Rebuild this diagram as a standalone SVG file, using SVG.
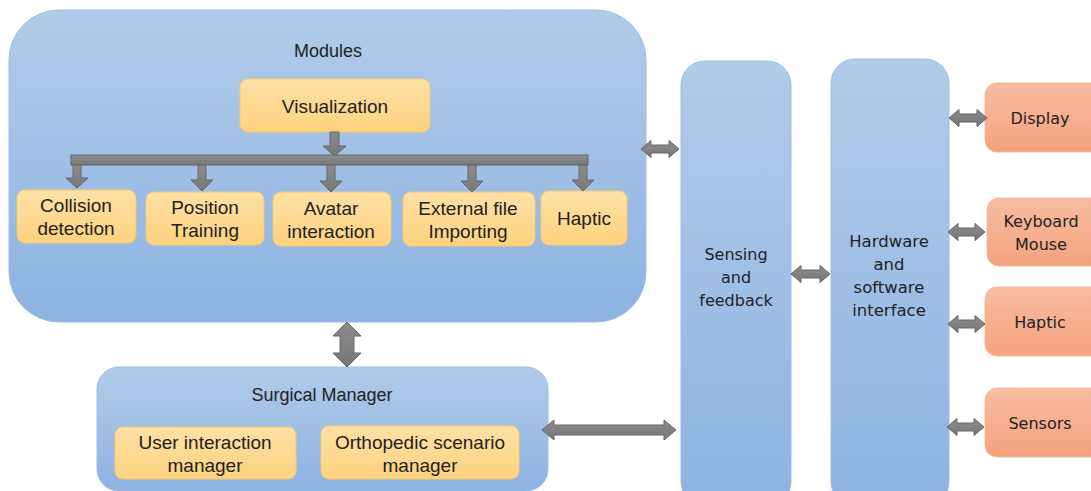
<svg xmlns="http://www.w3.org/2000/svg" width="1091" height="491" viewBox="0 0 1091 491">
  <defs>
    <linearGradient id="gBlue" x1="0" y1="0" x2="0" y2="1">
      <stop offset="0" stop-color="#b2cbe9"/>
      <stop offset="1" stop-color="#8db3e2"/>
    </linearGradient>
    <linearGradient id="gYellow" x1="0" y1="0" x2="0" y2="1">
      <stop offset="0" stop-color="#fee1a6"/>
      <stop offset="1" stop-color="#fdd27f"/>
    </linearGradient>
    <linearGradient id="gSalmon" x1="0" y1="0" x2="0" y2="1">
      <stop offset="0" stop-color="#f7bda1"/>
      <stop offset="1" stop-color="#f4a27f"/>
    </linearGradient>
    <linearGradient id="gGray" x1="0" y1="0" x2="0" y2="1">
      <stop offset="0" stop-color="#8c8c8c"/>
      <stop offset="1" stop-color="#777777"/>
    </linearGradient>
  </defs>
  <style>
    .blue { fill: url(#gBlue); stroke: #9dbde6; stroke-width: 1; }
    .yel { fill: url(#gYellow); stroke: #f6cb6a; stroke-width: 1; }
    .sal { fill: url(#gSalmon); stroke: #f6b89a; stroke-width: 1; }
    .arr { fill: url(#gGray); stroke: #666666; stroke-width: 1; stroke-linejoin: miter; }
    .tl { font-family: "Liberation Sans", Arial, sans-serif; font-size: 19px; fill: #222222; text-anchor: middle; dominant-baseline: central; }
    .th { font-size: 18px; }
    .tr { font-family: "DejaVu Sans", Verdana, sans-serif; font-size: 16px; fill: #222222; text-anchor: middle; dominant-baseline: central; }
    .tb { font-size: 16.5px; }
  </style>

  <rect width="1091" height="491" fill="#ffffff"/>

  <!-- Modules container -->
  <g id="modules">
    <rect class="blue" x="9" y="10" width="637" height="312" rx="50"/>
    <text class="tl th" x="328" y="51">Modules</text>
  </g>
  <g id="visualization">
    <rect class="yel" x="240" y="79" width="190" height="53" rx="8"/>
    <text class="tl" x="335" y="106">Visualization</text>
  </g>
  <g id="collision">
    <rect class="yel" x="17" y="190" width="119" height="53" rx="8"/>
    <text class="tl" x="76" y="205">Collision</text>
    <text class="tl" x="76" y="228">detection</text>
  </g>
  <g id="position">
    <rect class="yel" x="146" y="192" width="118" height="53" rx="8"/>
    <text class="tl" x="205" y="207">Position</text>
    <text class="tl" x="205" y="230">Training</text>
  </g>
  <g id="avatar">
    <rect class="yel" x="273" y="192" width="118" height="54" rx="8"/>
    <text class="tl" x="331" y="208">Avatar</text>
    <text class="tl" x="331" y="231">interaction</text>
  </g>
  <g id="external">
    <rect class="yel" x="403" y="192" width="132" height="54" rx="8"/>
    <text class="tl" x="468" y="208">External file</text>
    <text class="tl" x="468" y="231">Importing</text>
  </g>
  <g id="haptic-module">
    <rect class="yel" x="541" y="191" width="86" height="54" rx="8"/>
    <text class="tl" x="584" y="218">Haptic</text>
  </g>

  <!-- Surgical manager container -->
  <g id="surgical-manager">
    <rect class="blue" x="97" y="367" width="451" height="124" rx="22"/>
    <text class="tl th" x="322" y="395">Surgical Manager</text>
  </g>
  <g id="user-interaction">
    <rect class="yel" x="115" y="427" width="181" height="52" rx="8"/>
    <text class="tl" x="205" y="442">User interaction</text>
    <text class="tl" x="205" y="465">manager</text>
  </g>
  <g id="orthopedic">
    <rect class="yel" x="321" y="426" width="198" height="53" rx="8"/>
    <text class="tl" x="420" y="442">Orthopedic scenario</text>
    <text class="tl" x="420" y="465">manager</text>
  </g>

  <!-- Middle columns -->
  <g id="sensing">
    <rect class="blue" x="681" y="61" width="110" height="445" rx="24"/>
    <text class="tr" x="736" y="254">Sensing</text>
    <text class="tr" x="736" y="277">and</text>
    <text class="tr" x="736" y="300">feedback</text>
  </g>
  <g id="hw-sw-interface">
    <rect class="blue" x="831" y="59" width="118" height="447" rx="24"/>
    <text class="tr tb" x="889" y="241">Hardware</text>
    <text class="tr tb" x="889" y="264">and</text>
    <text class="tr tb" x="889" y="287">software</text>
    <text class="tr tb" x="889" y="310">interface</text>
  </g>

  <!-- Devices -->
  <g id="display">
    <rect class="sal" x="985" y="83" width="120" height="69" rx="12"/>
    <text class="tr" x="1040" y="118">Display</text>
  </g>
  <g id="keyboard-mouse">
    <rect class="sal" x="987" y="198" width="118" height="68" rx="12"/>
    <text class="tr" x="1041" y="221">Keyboard</text>
    <text class="tr" x="1041" y="244">Mouse</text>
  </g>
  <g id="haptic-device">
    <rect class="sal" x="985" y="287" width="120" height="69" rx="12"/>
    <text class="tr" x="1040" y="322">Haptic</text>
  </g>
  <g id="sensors">
    <rect class="sal" x="985" y="388" width="120" height="69" rx="12"/>
    <text class="tr" x="1040" y="423">Sensors</text>
  </g>

  <!-- Connectors (block arrows) -->
  <g id="connectors">
    <!-- Visualization to distribution bar -->
    <path class="arr" d="M330,132 H339 V146 H346 L334.5,156 L323,146 H330 Z"/>
    <!-- distribution bar -->
    <rect class="arr" x="71" y="155" width="517" height="10"/>
    <!-- bar to each module -->
    <path class="arr" d="M73,165 H81 V178 H88 L77,188 L66,178 H73 Z"/>
    <path class="arr" d="M198,165 H206 V180 H213 L202,191 L191,180 H198 Z"/>
    <path class="arr" d="M327,165 H335 V181 H342 L331,192 L320,181 H327 Z"/>
    <path class="arr" d="M468,165 H476 V181 H483 L472,192 L461,181 H468 Z"/>
    <path class="arr" d="M579,165 H587 V180 H594 L583,191 L572,180 H579 Z"/>

    <!-- Modules <-> Surgical Manager -->
    <path class="arr" d="M347,322 L361,336 H354 V353 H361 L347,367 L333,353 H340 V336 H333 Z"/>
    <!-- Surgical Manager <-> Sensing -->
    <path class="arr" d="M542,430 L554,420 V425 H664 V420 L676,430 L664,440 V435 H554 V440 Z"/>
    <!-- Modules <-> Sensing -->
    <path class="arr" d="M641,149 L651,140.5 V145 H669 V140.5 L679,149 L669,157.5 V153 H651 V157.5 Z"/>
    <!-- Sensing <-> Hardware/software -->
    <path class="arr" d="M791,274 L801,265.5 V270 H820 V265.5 L830,274 L820,282.5 V278 H801 V282.5 Z"/>
    <!-- Hardware/software <-> devices -->
    <path class="arr" d="M949,118 L959,109.5 V114 H977 V109.5 L987,118 L977,126.5 V122 H959 V126.5 Z"/>
    <path class="arr" d="M948,232 L958,223.5 V228 H975 V223.5 L985,232 L975,240.5 V236 H958 V240.5 Z"/>
    <path class="arr" d="M948,324 L958,315.5 V320 H975 V315.5 L985,324 L975,332.5 V328 H958 V332.5 Z"/>
    <path class="arr" d="M947,427 L957,418.5 V423 H974 V418.5 L984,427 L974,435.5 V431 H957 V435.5 Z"/>
  </g>
</svg>
